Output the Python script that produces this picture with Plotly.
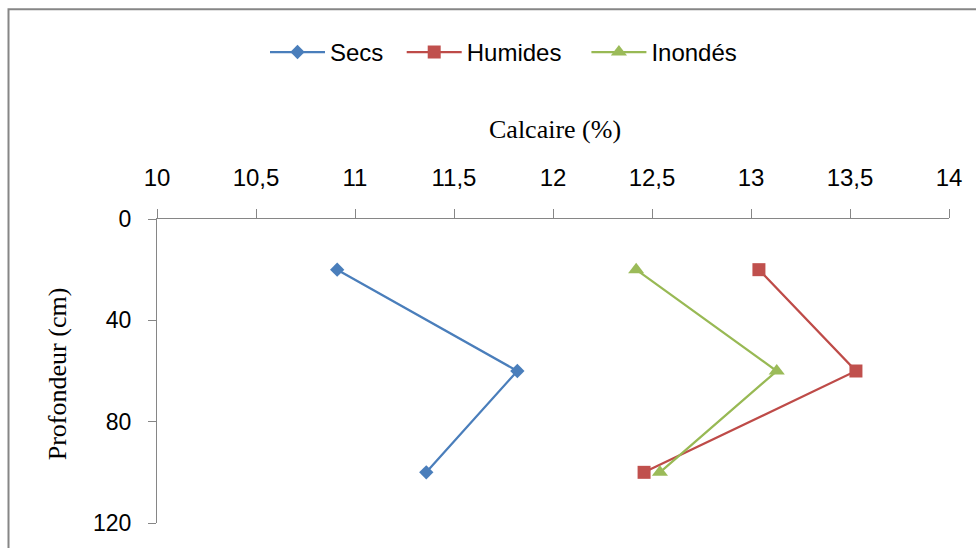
import plotly.graph_objects as go

# Calcaire content (%) by depth (cm) for the three soil conditions
profondeur = [20, 60, 100]
secs = [10.91, 11.82, 11.36]
humides = [13.04, 13.53, 12.46]
inondes = [12.42, 13.13, 12.54]

series_names = ["Secs", "Humides", "Inondés"]
x_ticks = [10, 10.5, 11, 11.5, 12, 12.5, 13, 13.5, 14]
x_tick_labels = ["10", "10,5", "11", "11,5", "12", "12,5", "13", "13,5", "14"]
y_ticks = [0, 40, 80, 120]

# trailing no-break spaces widen the gap between legend entries
nbsp = "\u00a0"

fig = go.Figure()
fig.add_trace(go.Scatter(
    x=secs, y=profondeur, name=series_names[0] + nbsp * 2, mode="lines+markers",
    line=dict(color="#4A7EBB", width=2.25),
    marker=dict(symbol="diamond", size=11, color="#4A7EBB"),
))
fig.add_trace(go.Scatter(
    x=humides, y=profondeur, name=series_names[1] + nbsp * 3, mode="lines+markers",
    line=dict(color="#BE4B48", width=2.25),
    marker=dict(symbol="square", size=13, color="#C0504D"),
))
fig.add_trace(go.Scatter(
    x=inondes, y=profondeur, name=series_names[2], mode="lines+markers",
    line=dict(color="#98B954", width=2.25),
    marker=dict(symbol="triangle-up", size=14, color="#9BBB59"),
))

axis_color = "#868686"
fig.update_layout(
    width=976, height=548,
    margin=dict(l=157, r=27, t=219, b=19),
    paper_bgcolor="white", plot_bgcolor="white",
    font=dict(family="Liberation Sans", size=24, color="black"),
    showlegend=True,
    legend=dict(
        orientation="h", x=0.4375, xanchor="center", y=1.548, yanchor="middle",
        font=dict(size=24), itemwidth=55, bgcolor="rgba(0,0,0,0)",
    ),
    xaxis=dict(
        side="top", range=[10, 14], tickvals=x_ticks, ticktext=x_tick_labels,
        showgrid=False, zeroline=False, showline=True, linecolor=axis_color,
        linewidth=1, ticks="outside", ticklen=9, tickcolor=axis_color,
        ticklabelstandoff=13, tickfont=dict(size=24),
    ),
    yaxis=dict(
        range=[120, 0], tickvals=y_ticks, showgrid=False, zeroline=False,
        showline=True, linecolor=axis_color, linewidth=1, ticks="outside",
        ticklen=8, tickcolor=axis_color, ticklabelstandoff=12,
        tickfont=dict(size=23),
    ),
    annotations=[
        dict(text="Calcaire (%)", xref="paper", yref="paper", x=0.5025, y=1.295,
             xanchor="center", yanchor="middle", showarrow=False,
             font=dict(family="Liberation Serif", size=26)),
        dict(text="Profondeur (cm)", xref="paper", yref="paper", x=-0.126, y=0.49,
             xanchor="center", yanchor="middle", showarrow=False, textangle=-90,
             font=dict(family="Liberation Serif", size=26)),
    ],
    shapes=[
        dict(type="rect", xref="paper", yref="paper",
             x0=-0.1875, x1=1.2, y0=-0.3, y1=1.69,
             line=dict(color=axis_color, width=2), layer="below"),
    ],
)

fig.write_html("out.html")
